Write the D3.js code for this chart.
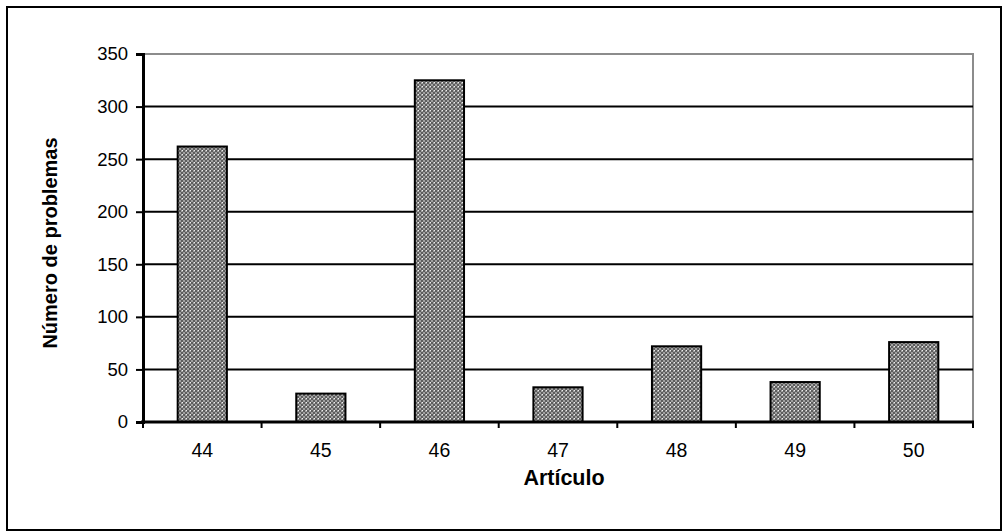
<!DOCTYPE html>
<html>
<head>
<meta charset="utf-8">
<script src="https://cdn.jsdelivr.net/npm/d3@7"></script>
<style>
  html, body { margin: 0; padding: 0; background: #fff; }
  svg { display: block; }
</style>
</head>
<body>
<svg id="chart" width="1008" height="532"></svg>
<script>
// Problems counted per article
const categories = ["44", "45", "46", "47", "48", "49", "50"];
const values = [262, 27, 325, 33, 72, 38, 76];
const yTicks = [0, 50, 100, 150, 200, 250, 300, 350];

const svg = d3.select("#chart");
const W = 1008, H = 532;
const margin = { left: 143, right: 35, top: 54, bottom: 110 };
const plotW = W - margin.left - margin.right;
const plotH = H - margin.top - margin.bottom;
const FONT = "Liberation Sans, Arial, sans-serif";

// Checkered gray fill for the bars
const defs = svg.append("defs");
const pat = defs.append("pattern")
  .attr("id", "hatch")
  .attr("patternUnits", "userSpaceOnUse")
  .attr("width", 4).attr("height", 4);
pat.append("rect").attr("width", 4).attr("height", 4).attr("fill", "#a2a2a2");
[[0, 0], [2, 2]].forEach(([px, py]) =>
  pat.append("rect").attr("x", px).attr("y", py).attr("width", 2).attr("height", 2).attr("fill", "#5e5e5e"));
pat.append("rect").attr("x", 3).attr("y", 0).attr("width", 1).attr("height", 1).attr("fill", "#f0f0f0");

// Outer frame
svg.append("rect")
  .attr("x", 7).attr("y", 7).attr("width", W - 14).attr("height", H - 9)
  .attr("fill", "none").attr("stroke", "#000").attr("stroke-width", 2);

const g = svg.append("g").attr("transform", `translate(${margin.left},${margin.top})`);

const x = d3.scaleBand().domain(categories).range([0, plotW]).paddingInner(0.585).paddingOuter(0.2925);
const xEdge = d3.scalePoint().domain(d3.range(categories.length + 1)).range([0, plotW]);
const y = d3.scaleLinear().domain([0, 350]).range([plotH, 0]);

// Plot frame (top and right edges in gray)
g.append("rect")
  .attr("x", 0).attr("y", 0).attr("width", plotW).attr("height", plotH)
  .attr("fill", "none").attr("stroke", "#8c8c8c").attr("stroke-width", 2);

// Horizontal grid lines
g.append("g")
  .selectAll("line")
  .data(yTicks.filter(t => t > 0 && t < 350))
  .join("line")
  .attr("x1", 0).attr("x2", plotW)
  .attr("y1", d => y(d)).attr("y2", d => y(d))
  .attr("stroke", "#000").attr("stroke-width", 2);

// Bars
g.append("g")
  .selectAll("rect")
  .data(values)
  .join("rect")
  .attr("x", (d, i) => x(categories[i]))
  .attr("y", d => y(d))
  .attr("width", x.bandwidth())
  .attr("height", d => plotH - y(d))
  .attr("fill", "url(#hatch)")
  .attr("stroke", "#000").attr("stroke-width", 2);

// Y axis
const yAxis = g.append("g")
  .call(d3.axisLeft(y).tickValues(yTicks).tickSize(7).tickPadding(8).tickFormat(d3.format("d")));
yAxis.select(".domain").attr("stroke", "#000").attr("stroke-width", 3);
yAxis.selectAll(".tick line").attr("stroke", "#000").attr("stroke-width", 2);
yAxis.selectAll(".tick text")
  .attr("font-family", FONT)
  .attr("font-size", 18.5).attr("fill", "#000");

// X axis: ticks on category boundaries, labels centred on bars
const xAxisG = g.append("g").attr("transform", `translate(0,${plotH})`);
xAxisG.append("line")
  .attr("x1", -2).attr("x2", plotW + 1).attr("y1", 0).attr("y2", 0)
  .attr("stroke", "#000").attr("stroke-width", 3);
xAxisG.selectAll("line.tk")
  .data(xEdge.domain())
  .join("line").attr("class", "tk")
  .attr("x1", d => xEdge(d)).attr("x2", d => xEdge(d))
  .attr("y1", 0).attr("y2", 6)
  .attr("stroke", "#000").attr("stroke-width", 2);
xAxisG.selectAll("text")
  .data(categories)
  .join("text")
  .attr("x", d => x(d) + x.bandwidth() / 2)
  .attr("y", 35)
  .attr("text-anchor", "middle")
  .attr("font-family", FONT)
  .attr("font-size", 19.5).attr("fill", "#000")
  .text(d => d);

// Axis titles
svg.append("text")
  .attr("x", margin.left + plotW / 2 + 6).attr("y", 485)
  .attr("text-anchor", "middle")
  .attr("font-family", FONT)
  .attr("font-weight", "bold").attr("font-size", 21.5)
  .text("Artículo");

svg.append("text")
  .attr("transform", `translate(57,243) rotate(-90)`)
  .attr("text-anchor", "middle")
  .attr("font-family", FONT)
  .attr("font-weight", "bold").attr("font-size", 20)
  .text("Número de problemas");
</script>
</body>
</html>
